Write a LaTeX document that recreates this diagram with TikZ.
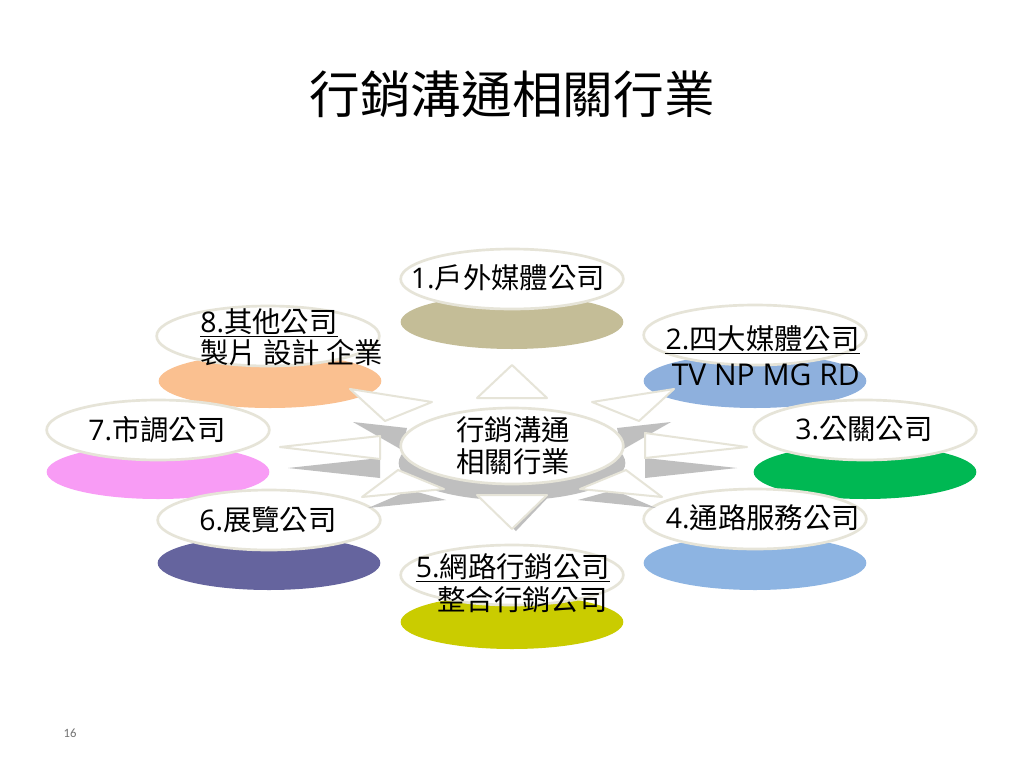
\documentclass[tikz,border=0pt]{standalone}
\usepackage{fontspec}
\setmainfont{Noto Sans CJK TC}
\newfontfamily\lat{Open Sans}
\newfontfamily\pgnum{Carlito}
\usetikzlibrary{shapes.geometric}
\definecolor{rimc}{HTML}{E6E4D8}
\definecolor{shadc}{HTML}{BFBFBF}
\definecolor{ckhaki}{HTML}{C4BD97}
\definecolor{corange}{HTML}{FAC090}
\definecolor{cblue}{HTML}{8EB0DD}
\definecolor{cgreen}{HTML}{00B853}
\definecolor{cmag}{HTML}{F89CF5}
\definecolor{cpurple}{HTML}{65649E}
\definecolor{clblue}{HTML}{8DB4E2}
\definecolor{cyg}{HTML}{CACC00}
\begin{document}
\begin{tikzpicture}[x=0.75pt,y=-0.75pt,
  disktop/.style={ellipse, draw=rimc, line width=2pt, fill=white, minimum width=167pt, minimum height=45pt, inner sep=0pt},
  diskbot/.style={ellipse, draw=none, minimum width=167pt, minimum height=40.5pt, inner sep=0pt},
  lbl/.style={font=\fontsize{21.3pt}{25pt}\selectfont, inner sep=0pt, text=black},
  arrw/.style={fill=white, draw=rimc, line width=1.5pt, line join=round},
  arrg/.style={fill=shadc, draw=none},
  uline/.style={line width=0.9pt, black}]
\useasboundingbox (0,0) rectangle (1024,768);
\fill[white] (0,0) rectangle (1024,768);

% title
\node[font=\fontsize{38pt}{44pt}\selectfont, inner sep=0pt] (title) at (512,94) {行銷溝通相關行業};
\node[font=\pgnum\fontsize{9.5pt}{11pt}\selectfont, text=black!55, inner sep=0pt] (pg) at (70,733) {16};

% outer disks (upper first)
\node[diskbot, fill=ckhaki] (b1) at (512,322) {};
\node[disktop] (n1) at (512,279) {};
\node[diskbot, fill=corange] (b8) at (270,381) {};
\node[disktop] (n8) at (268,336) {};
\node[diskbot, fill=cblue] (b2) at (755,381) {};
\node[disktop] (n2) at (755,335) {};
\node[diskbot, fill=cmag] (b7) at (158,472) {};
\node[disktop] (n7) at (158,430) {};
\node[diskbot, fill=cgreen] (b3) at (865,472) {};
\node[disktop] (n3) at (865,430) {};
\node[diskbot, fill=cpurple] (b6) at (269,563) {};
\node[disktop] (n6) at (269,520) {};
\node[diskbot, fill=clblue] (b4) at (755,563) {};
\node[disktop] (n4) at (755,519) {};
\node[diskbot, fill=cyg] (b5) at (512,622) {};
\node[disktop] (n5) at (512,575) {};

% arrow shadows
\fill[arrg] (288,468) -- (380,458) -- (380,478) -- cycle;
\fill[arrg] (737,468) -- (645,458) -- (645,478) -- cycle;
\fill[arrg] (353,422) -- (407,428) -- (402,450) -- cycle;
\fill[arrg] (671,422) -- (617,428) -- (622,450) -- cycle;
\fill[arrg] (368,508) -- (410,490) -- (446,500) -- cycle;
\fill[arrg] (656,508) -- (614,490) -- (578,500) -- cycle;
\fill[arrg] (474,489) -- (556,489) -- (516,531) -- cycle;

% centre shadow
\node[ellipse, fill=shadc, minimum width=170pt, minimum height=56pt, inner sep=0pt] (cb) at (512,463) {};

% arrows
\filldraw[arrw] (512,365) -- (477,398) -- (547,398) -- cycle;
\filldraw[arrw] (477,495) -- (547,495) -- (512,529) -- cycle;
\filldraw[arrw] (280,447) -- (380,436) -- (380,459) -- cycle;
\filldraw[arrw] (747,447) -- (645,433) -- (645,458) -- cycle;
\filldraw[arrw] (350,389) -- (432,402) -- (385,421) -- cycle;
\filldraw[arrw] (674,389) -- (592,402) -- (639,421) -- cycle;
\filldraw[arrw] (362,497) -- (398,470) -- (444,489) -- cycle;
\filldraw[arrw] (662,497) -- (626,470) -- (580,489) -- cycle;

% centre disk
\node[ellipse, draw=rimc, line width=2pt, fill=white, minimum width=167pt, minimum height=57pt, inner sep=0pt] (c) at (512,446) {};

% labels
\node[lbl] (tc1) at (513,430) {行銷溝通};
\node[lbl] (tc2) at (513,462) {相關行業};
\node[lbl] (t1) at (508,278) {{\lat 1.}戶外媒體公司};
\node[lbl, anchor=west] (t8a) at (200,322) {{\lat 8.}其他公司};
\node[lbl, anchor=west] (t8b) at (200,353) {製片 設計 企業};
\draw[uline] ([yshift=-3pt]t8a.base west) -- ([yshift=-3pt]t8a.base east);
\node[lbl, anchor=east] (t2a) at (860,339) {{\lat 2.}四大媒體公司};
\node[lbl, anchor=east, font=\lat\fontsize{22.5pt}{26pt}\selectfont] (t2b) at (860,375) {TV NP MG RD};
\draw[uline] ([yshift=-3pt]t2a.base west) -- ([yshift=-3pt]t2a.base east);
\node[lbl] (t7) at (157,430) {{\lat 7.}市調公司};
\node[lbl] (t3) at (864,429) {{\lat 3.}公關公司};
\node[lbl] (t6) at (268,520) {{\lat 6.}展覽公司};
\node[lbl] (t4) at (763,518) {{\lat 4.}通路服務公司};
\node[lbl] (t5a) at (513,567) {{\lat 5.}網路行銷公司};
\draw[uline] ([yshift=-3pt]t5a.base west) -- ([yshift=-3pt]t5a.base east);
\node[lbl, anchor=east] (t5b) at (608,600) {整合行銷公司};
\end{tikzpicture}
\end{document}
